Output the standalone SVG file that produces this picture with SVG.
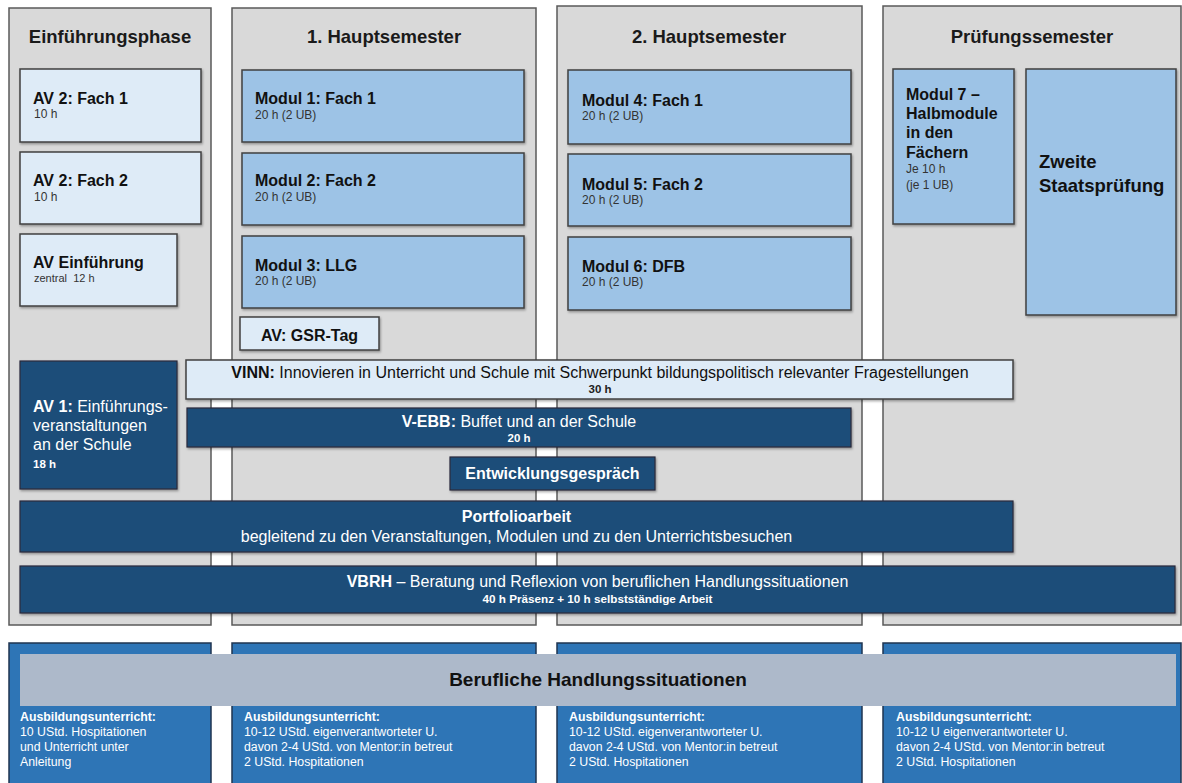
<svg xmlns="http://www.w3.org/2000/svg" width="1182" height="783" viewBox="0 0 1182 783">
<defs>
<filter id="sh" x="-5%" y="-5%" width="110%" height="130%">
<feDropShadow dx="1" dy="1.5" stdDeviation="1" flood-color="#000" flood-opacity="0.35"/>
</filter>
</defs>
<style>
text{font-family:"Liberation Sans",Arial,sans-serif}
.panel{fill:#d9d9d9;stroke:#595959;stroke-width:1.5}
.light{fill:#deebf7;stroke:#404040;stroke-width:1.5}
.mid{fill:#9dc3e6;stroke:#404040;stroke-width:1.5}
.navy{fill:#1f4e79;stroke:#2a2a3a;stroke-width:1.2}
.blue{fill:#2e75b6;stroke:#1f3550;stroke-width:1.5}
.band{fill:#adb9ca}
.hdr{font-size:18.5px;font-weight:bold;fill:#1a1a1a;text-anchor:middle}
.t{font-size:16px;font-weight:bold;fill:#111}
.s{font-size:12px;fill:#333}
.w{fill:#fff}
.c{text-anchor:middle}
.b{font-weight:bold}
.bt{font-size:12.3px;fill:#fff}
</style>
<rect width="1182" height="783" fill="#fff"/>

<g id="panels">
<rect class="panel" x="9" y="8" width="202" height="617"/>
<rect class="panel" x="232" y="8" width="304" height="617"/>
<rect class="panel" x="557" y="6" width="305" height="619"/>
<rect class="panel" x="883" y="6" width="298" height="619"/>
<text class="hdr" x="110" y="43">Einführungsphase</text>
<text class="hdr" x="384" y="43">1. Hauptsemester</text>
<text class="hdr" x="709" y="43">2. Hauptsemester</text>
<text class="hdr" x="1032" y="43">Prüfungssemester</text>
</g>

<g id="av2-fach1"><rect class="light" filter="url(#sh)" x="20" y="69" width="181" height="73"/><text class="t" x="33" y="104">AV 2: Fach 1</text><text class="s" x="34" y="118">10 h</text></g>
<g id="av2-fach2"><rect class="light" filter="url(#sh)" x="20" y="152" width="181" height="72"/><text class="t" x="33" y="186">AV 2: Fach 2</text><text class="s" x="34" y="201">10 h</text></g>
<g id="av-einfuehrung"><rect class="light" filter="url(#sh)" x="20" y="234" width="157" height="72"/><text class="t" x="33" y="268">AV Einführung</text><text class="s" x="34" y="282" style="font-size:11px">zentral&#160; 12 h</text></g>

<g id="modul1"><rect class="mid" filter="url(#sh)" x="242" y="70" width="282" height="72"/><text class="t" x="255" y="104">Modul 1: Fach 1</text><text class="s" x="255" y="119">20 h (2 UB)</text></g>
<g id="modul2"><rect class="mid" filter="url(#sh)" x="242" y="153" width="282" height="72"/><text class="t" x="255" y="186">Modul 2: Fach 2</text><text class="s" x="255" y="201">20 h (2 UB)</text></g>
<g id="modul3"><rect class="mid" filter="url(#sh)" x="242" y="236" width="282" height="72"/><text class="t" x="255" y="271">Modul 3: LLG</text><text class="s" x="255" y="285">20 h (2 UB)</text></g>
<g id="gsr-tag"><rect class="light" filter="url(#sh)" x="240" y="317" width="139" height="33"/><text class="t c" x="309.5" y="341">AV: GSR-Tag</text></g>

<g id="modul4"><rect class="mid" filter="url(#sh)" x="568" y="70" width="283" height="74"/><text class="t" x="582" y="106">Modul 4: Fach 1</text><text class="s" x="582" y="120">20 h (2 UB)</text></g>
<g id="modul5"><rect class="mid" filter="url(#sh)" x="568" y="154" width="283" height="72"/><text class="t" x="582" y="190">Modul 5: Fach 2</text><text class="s" x="582" y="204">20 h (2 UB)</text></g>
<g id="modul6"><rect class="mid" filter="url(#sh)" x="568" y="237" width="283" height="73"/><text class="t" x="582" y="272">Modul 6: DFB</text><text class="s" x="582" y="286">20 h (2 UB)</text></g>

<g id="modul7"><rect class="mid" filter="url(#sh)" x="893" y="69" width="121" height="155"/>
<text class="t" x="906" y="100">Modul 7 –</text><text class="t" x="906" y="119">Halbmodule</text><text class="t" x="906" y="138">in den</text><text class="t" x="906" y="158">Fächern</text>
<text class="s" x="906" y="173">Je 10 h</text><text class="s" x="906" y="189">(je 1 UB)</text></g>
<g id="staatspruefung"><rect class="mid" filter="url(#sh)" x="1026" y="69" width="150" height="246"/>
<text class="t" style="font-size:18.5px" x="1039" y="168">Zweite</text><text class="t" style="font-size:18.5px" x="1039" y="192">Staatsprüfung</text></g>

<g id="av1"><rect class="navy" filter="url(#sh)" x="20" y="361" width="157" height="128"/>
<text class="w" style="font-size:16px" x="33" y="412"><tspan class="b">AV 1:</tspan> Einführungs-</text>
<text class="w" style="font-size:16px" x="33" y="431">veranstaltungen</text>
<text class="w" style="font-size:16px" x="33" y="450">an der Schule</text>
<text class="w b" style="font-size:11.5px" x="33" y="468">18 h</text></g>

<g id="vinn"><rect class="light" filter="url(#sh)" x="186" y="360" width="827" height="39"/>
<text class="c" style="font-size:16px;fill:#111" x="600" y="378"><tspan class="b">VINN:</tspan> Innovieren in Unterricht und Schule mit Schwerpunkt bildungspolitisch relevanter Fragestellungen</text>
<text class="c b" style="font-size:11.5px;fill:#222" x="600" y="393">30 h</text></g>

<g id="v-ebb"><rect class="navy" filter="url(#sh)" x="187" y="408" width="664" height="39"/>
<text class="c w" style="font-size:16px" x="519" y="427"><tspan class="b">V-EBB:</tspan> Buffet und an der Schule</text>
<text class="c w b" style="font-size:11.5px" x="519" y="442">20 h</text></g>

<g id="entwicklungsgespraech"><rect class="navy" filter="url(#sh)" x="450" y="457" width="205" height="33"/>
<text class="c w b" style="font-size:16px" x="552.5" y="479">Entwicklungsgespräch</text></g>

<g id="portfolio"><rect class="navy" filter="url(#sh)" x="20" y="501" width="993" height="51"/>
<text class="c w b" style="font-size:16px" x="516.5" y="522">Portfolioarbeit</text>
<text class="c w" style="font-size:16px" x="516.5" y="542">begleitend zu den Veranstaltungen, Modulen und zu den Unterrichtsbesuchen</text></g>

<g id="vbrh"><rect class="navy" filter="url(#sh)" x="20" y="566" width="1155" height="47"/>
<text class="c w" style="font-size:16px" x="597.5" y="587"><tspan class="b">VBRH</tspan> – Beratung und Reflexion von beruflichen Handlungssituationen</text>
<text class="c w b" style="font-size:11.7px" x="597.5" y="603">40 h Präsenz + 10 h selbstständige Arbeit</text></g>

<g id="bottom-boxes">
<rect class="blue" x="9" y="643" width="202" height="150"/>
<rect class="blue" x="232" y="643" width="304" height="150"/>
<rect class="blue" x="557" y="643" width="305" height="150"/>
<rect class="blue" x="883" y="643" width="298" height="150"/>
</g>
<g id="berufliche-handlungssituationen"><rect class="band" x="20" y="654" width="1156" height="52"/>
<text class="c b" style="font-size:19px;fill:#111" x="598" y="686">Berufliche Handlungssituationen</text></g>

<g id="au1"><text class="bt b" x="20" y="721">Ausbildungsunterricht:</text><text class="bt" x="20" y="736">10 UStd. Hospitationen</text><text class="bt" x="20" y="751">und Unterricht unter</text><text class="bt" x="20" y="766">Anleitung</text></g>
<g id="au2"><text class="bt b" x="244" y="721">Ausbildungsunterricht:</text><text class="bt" x="244" y="736">10-12 UStd. eigenverantworteter U.</text><text class="bt" x="244" y="751">davon 2-4 UStd. von Mentor:in betreut</text><text class="bt" x="244" y="766">2 UStd. Hospitationen</text></g>
<g id="au3"><text class="bt b" x="569" y="721">Ausbildungsunterricht:</text><text class="bt" x="569" y="736">10-12 UStd. eigenverantworteter U.</text><text class="bt" x="569" y="751">davon 2-4 UStd. von Mentor:in betreut</text><text class="bt" x="569" y="766">2 UStd. Hospitationen</text></g>
<g id="au4"><text class="bt b" x="896" y="721">Ausbildungsunterricht:</text><text class="bt" x="896" y="736">10-12 U eigenverantworteter U.</text><text class="bt" x="896" y="751">davon 2-4 UStd. von Mentor:in betreut</text><text class="bt" x="896" y="766">2 UStd. Hospitationen</text></g>
<g id="connectors"></g>
</svg>
